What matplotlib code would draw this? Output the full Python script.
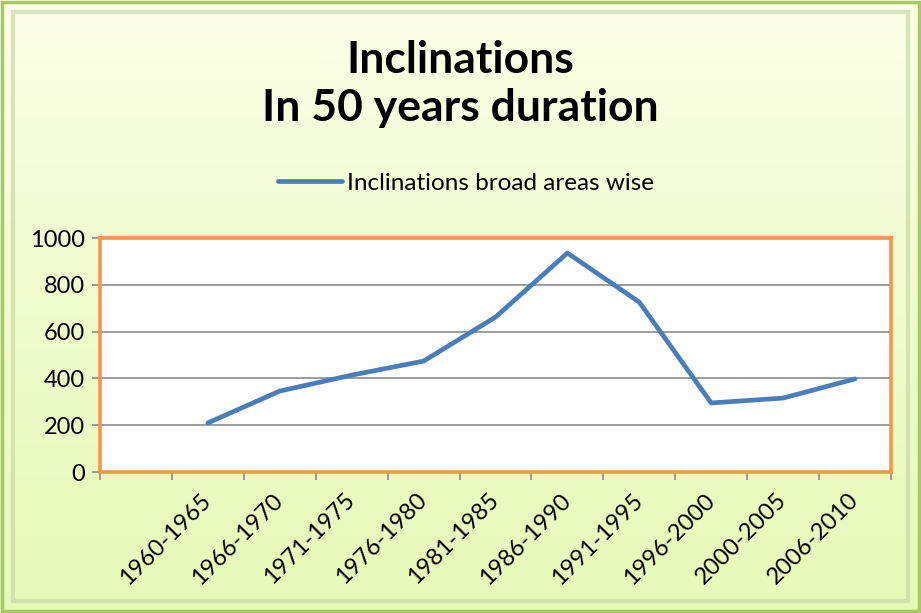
import matplotlib.pyplot as plt
import numpy as np
from matplotlib.patches import Rectangle

plt.rcParams['font.family'] = ['Lato', 'DejaVu Sans']

categories = ['', '1960-1965', '1966-1970', '1971-1975', '1976-1980', '1981-1985',
              '1986-1990', '1991-1995', '1996-2000', '2000-2005', '2006-2010']
values = [np.nan, 210, 346, 414, 474, 662, 936, 726, 295, 316, 398]

fig = plt.figure(figsize=(9.21, 6.13), dpi=100)

# gradient background
bg = fig.add_axes([0, 0, 1, 1], zorder=-10)
grad = np.linspace(0, 1, 256).reshape(-1, 1)
top = np.array([0.995, 1.0, 0.92])
bot = np.array([0.90, 0.98, 0.72])
img = top + (bot - top) * grad[:, :, None] ** 0.8
bg.imshow(img, aspect='auto', extent=[0, 1, 0, 1])
bg.add_patch(Rectangle((0.002, 0.003), 0.996, 0.994, fill=False, ec='#a8c864', lw=2.5))
bg.add_patch(Rectangle((0.014, 0.02), 0.972, 0.96, fill=False, ec='#c9d9a8', lw=3, alpha=0.7))
bg.set_xlim(0, 1)
bg.set_ylim(0, 1)
bg.axis('off')

ax = fig.add_axes([0.1086, 0.230, 0.8588, 0.3817])
x = np.arange(len(categories))
ax.plot(x, values, color='#4a7ebb', lw=3.4, solid_capstyle='round',
        label='Inclinations broad areas wise')
ax.set_xlim(-0.5, len(categories) - 0.5)
ax.set_ylim(0, 1000)
ax.set_yticks([0, 200, 400, 600, 800, 1000])
ax.set_xticks(np.arange(-0.5, len(categories) + 0.5, 1))
ax.set_xticklabels([])
ax.set_xticks(x, minor=True)
ax.set_xticklabels(categories, minor=True, rotation=45, ha='right', va='center',
                   rotation_mode='anchor', fontsize=17)
ax.tick_params(axis='x', which='minor', length=0, pad=18)
ax.tick_params(axis='x', which='major', length=6, color='#888888', width=1.2)
ax.tick_params(axis='y', length=6, color='#888888', width=1.2, labelsize=17, pad=5)
ax.grid(axis='y', color='#8c8c8c', lw=1.2)
ax.set_axisbelow(True)
for s in ax.spines.values():
    s.set_color('#f79646')
    s.set_linewidth(2.6)
ax.set_facecolor('white')

fig.text(0.5, 0.863, 'Inclinations\nIn 50 years duration', ha='center', va='center',
         fontsize=32, fontweight='bold', linespacing=1.25)
fig.legend(loc='center', bbox_to_anchor=(0.506, 0.701), frameon=False, fontsize=17.5,
           handlelength=2.6, handletextpad=0.2)

fig.savefig('out.png', dpi=100)
